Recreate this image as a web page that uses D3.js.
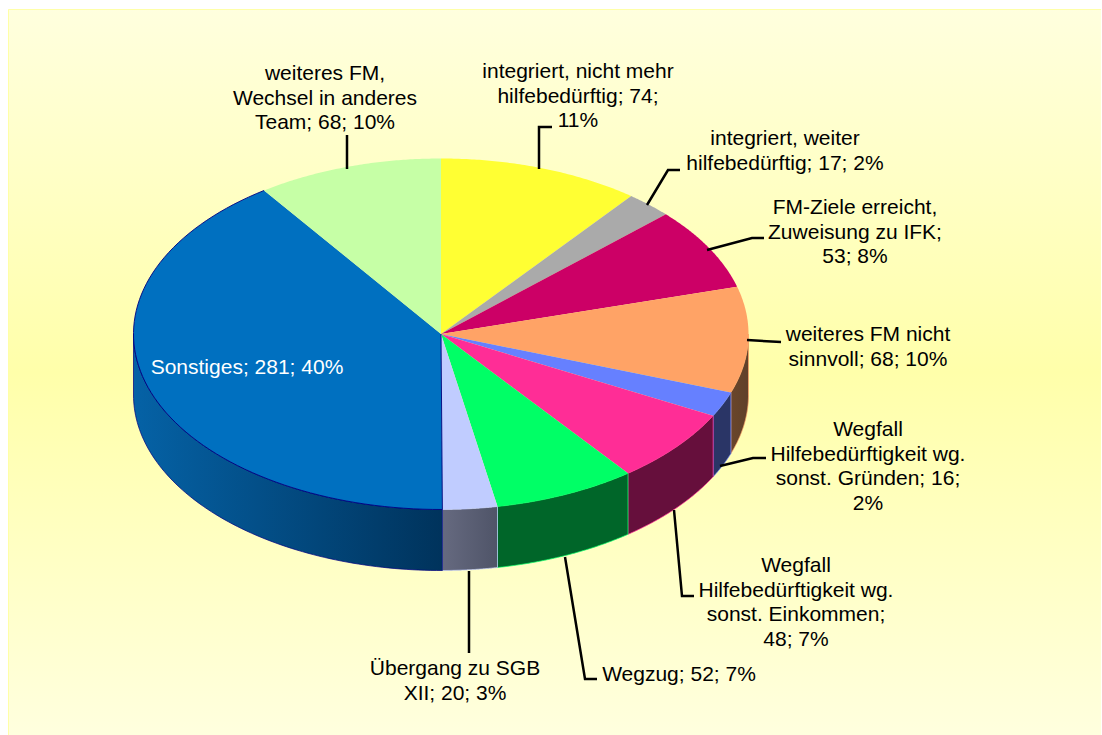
<!DOCTYPE html>
<html><head><meta charset="utf-8">
<script src="https://cdn.jsdelivr.net/npm/d3@7"></script>
<style>html,body{margin:0;background:#fff}svg{display:block}text{font-family:"Liberation Sans",Arial,sans-serif}</style>
</head><body><svg id="c" width="1102" height="735"></svg>
<script>
const categories=["integriert, nicht mehr hilfebedürftig","integriert, weiter hilfebedürftig","FM-Ziele erreicht, Zuweisung zu IFK","weiteres FM nicht sinnvoll","Wegfall Hilfebedürftigkeit wg. sonst. Gründen","Wegfall Hilfebedürftigkeit wg. sonst. Einkommen","Wegzug","Übergang zu SGB XII","Sonstiges","weiteres FM, Wechsel in anderes Team"];
const values=[74,17,53,68,16,48,52,20,281,68];
const percents=[11,2,8,10,2,7,7,3,40,10];
const topColors=["#FFFF33","#AAAAAA","#CC0066","#FFA366","#6680FF","#FF2D96","#00FF66","#C0CCFF","#0070C0","#C6FFA6"];
const sideLeft=["#999924","#6b6b6b","#7a003d","#6a462a","#2a3566","#660f3c","#006629","#666a80","#0562a6","#779964"];
const sideRight=["#999924","#6b6b6b","#7a003d","#60402a","#2a3566","#660f3c","#006629","#4f5468","#00335c","#779964"];
const labelLines=[["integriert, nicht mehr","hilfebedürftig; 74;","11%"],["integriert, weiter","hilfebedürftig; 17; 2%"],["FM-Ziele erreicht,","Zuweisung zu IFK;","53; 8%"],["weiteres FM nicht","sinnvoll; 68; 10%"],["Wegfall","Hilfebedürftigkeit wg.","sonst. Gründen; 16;","2%"],["Wegfall","Hilfebedürftigkeit wg.","sonst. Einkommen;","48; 7%"],["Wegzug; 52; 7%"],["Übergang zu SGB","XII; 20; 3%"],["Sonstiges; 281; 40%"],["weiteres FM,","Wechsel in anderes","Team; 68; 10%"]];
const labelCenters=[[578,71],[785,138],[855,207],[868,334],[868,429],[796,565],[679,674],[455,668],[247,367],[325,73]];
const leaderPaths=[[[539,169],[539,127],[552,127]],[[647,205],[668,170],[680,170]],[[707,250],[752,238],[764,238]],[[747,340],[781,342]],[[720,466],[753,458],[766,458]],[[674,510],[682,596],[694,596]],[[565,557],[585,679],[597,679]],[[469,571],[469,653]],null,[[347,169],[347,135]]];

const svg=d3.select("#c");
const cx=441,cy=334,rx=307.5,ry=175.5,depth=61;
const defs=svg.append("defs");
const bg=defs.append("linearGradient").attr("id","bg").attr("x1",0).attr("y1",0).attr("x2",0).attr("y2",1);
[[0,"#FFFFDE"],[.5,"#FFFFAA"],[1,"#FFFFDE"]].forEach(s=>bg.append("stop").attr("offset",s[0]).attr("stop-color",s[1]));
svg.append("rect").attr("x",8).attr("y",9).attr("width",1093).attr("height",726).attr("fill","url(#bg)");
svg.append("path").attr("d","M8.5,735V9.5H1101").attr("fill","none").attr("stroke","#FFFFA8").attr("stroke-width",1);

const pie=d3.pie().sort(null).value(d=>d)(values);
const px=a=>cx+rx*Math.sin(a), py=a=>cy-ry*Math.cos(a);
const angles=a=>d3.range(0,81).map(i=>a.startAngle+(a.endAngle-a.startAngle)*i/80);
const rimPoints=a=>angles(a).map(t=>[px(t),py(t)]);
const clipSide=(s,e)=>{const a0=Math.max(s,Math.PI/2),a1=Math.min(e,Math.PI*1.5);return a1>a0?[a0,a1]:null;};

pie.forEach((a,i)=>{
  const r=clipSide(a.startAngle,a.endAngle); if(!r) return;
  const x0=px(r[0]),x1=px(r[1]);
  const g=defs.append("linearGradient").attr("id","s"+i).attr("gradientUnits","userSpaceOnUse")
    .attr("x1",Math.min(x0,x1)).attr("x2",Math.max(x0,x1)).attr("y1",0).attr("y2",0);
  g.append("stop").attr("offset",0).attr("stop-color",sideLeft[i]);
  g.append("stop").attr("offset",1).attr("stop-color",sideRight[i]);
  const ts=d3.range(0,81).map(k=>r[0]+(r[1]-r[0])*k/80);
  const up=ts.map(t=>[px(t),py(t)]),lo=ts.slice().reverse().map(t=>[px(t),py(t)+depth]);
  svg.append("path").attr("d","M"+up.join("L")+"L"+lo.join("L")+"Z").attr("fill","url(#s"+i+")")
    .attr("stroke",i===8?"#000080":topColors[i]).attr("stroke-width",.9).attr("stroke-opacity",.8);
});
pie.forEach((a,i)=>svg.append("path").attr("d","M"+cx+","+cy+"L"+rimPoints(a).join("L")+"Z").attr("fill",topColors[i]));
const si=categories.indexOf("Sonstiges");
svg.append("path").attr("d","M"+cx+","+cy+"L"+rimPoints(pie[si]).join("L")).attr("fill","none").attr("stroke","#000080").attr("stroke-width",.9);
leaderPaths.forEach(p=>{if(p)svg.append("path").attr("d",d3.line()(p)).attr("fill","none").attr("stroke","#000").attr("stroke-width",2.5);});
labelLines.forEach((lines,i)=>{
  const t=svg.append("text").attr("text-anchor","middle").attr("font-size",21).attr("fill",i===si?"#fff":"#000");
  lines.forEach((l,k)=>t.append("tspan").attr("x",labelCenters[i][0]).attr("y",labelCenters[i][1]+7+k*24.5).text(l));
});
</script></body></html>
